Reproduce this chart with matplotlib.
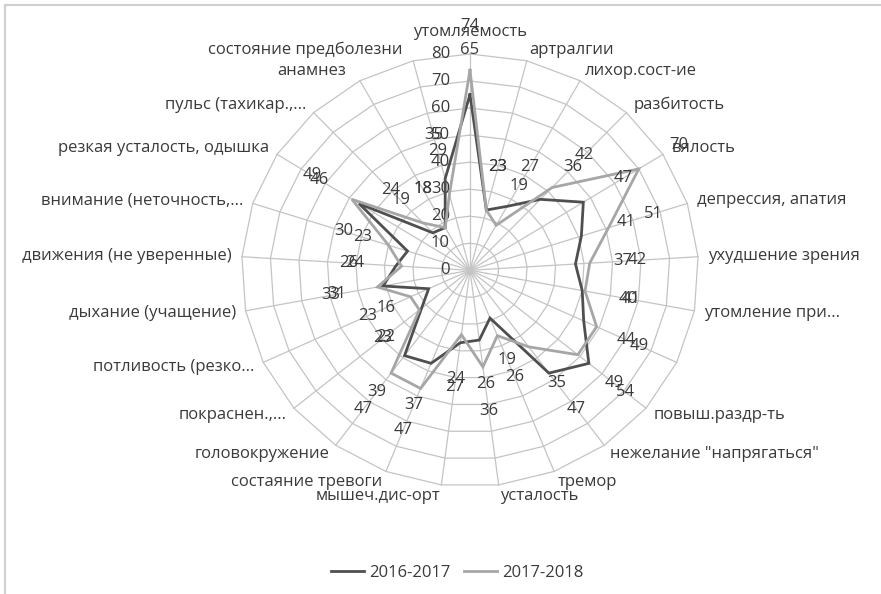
import numpy as np
import matplotlib
matplotlib.use("Agg")
import matplotlib.pyplot as plt
from matplotlib.lines import Line2D

plt.rcParams['font.family'] = ['Open Sans', 'DejaVu Sans']

# категории по часовой стрелке от верха
categories = [
    "утомляемость", "артралгии", "лихор.сост-ие", "разбитость", "вялость",
    "депрессия, апатия", "ухудшение зрения", "утомление при...", "",
    "повыш.раздр-ть", 'нежелание "напрягаться"', "тремор", "усталость",
    "мышеч.дис-орт", "состаяние тревоги", "головокружение", "покраснен.,...",
    "потливость (резко...", "дыхание (учащение)", "движения (не уверенные)",
    "внимание (неточность,...", "резкая усталость, одышка", "пульс (тахикар.,...",
    "анамнез", "состояние предболезни",
]
s_2016 = [65, 23, 27, 36, 47, 41, 37, 40, 44, 54, 47, 19, 26, 27, 37, 39,
          22, 16, 31, 26, 23, 46, 19, 18, 35]
s_2017 = [74, 23, 19, 42, 70, 51, 42, 41, 49, 49, 35, 26, 36, 24, 47, 47,
          23, 23, 33, 24, 30, 49, 24, 18, 29]
series_names = ["2016-2017", "2017-2018"]
ticks = [0, 10, 20, 30, 40, 50, 60, 70, 80]

DARK = '#4f4f4f'
LIGHT = '#a6a6a6'
GRID = '#c4c4c4'
TXT = '#3a3a3a'
FS = 12

W, H = 881, 594
cx, cy = 470, 270.3      # центр диаграммы, пикс.
sx, sy = 2.856, 2.704    # пикс. на единицу

fig = plt.figure(figsize=(W / 100, H / 100), dpi=100)
ax = fig.add_axes([0, 0, 1, 1])
ax.set_xlim(-cx / sx, (W - cx) / sx)
ax.set_ylim(-(H - cy) / sy, cy / sy)
ax.axis('off')

n = len(categories)
ang = np.arange(n) * 2 * np.pi / n
ss, cc = np.sin(ang), np.cos(ang)
rmax = ticks[-1]

# сетка: многоугольники и лучи
for t in ticks[1:]:
    ax.plot(np.append(t * ss, t * ss[0]), np.append(t * cc, t * cc[0]),
            color=GRID, lw=0.9, zorder=1)
for i in range(n):
    ax.plot([0, rmax * ss[i]], [0, rmax * cc[i]], color=GRID, lw=0.9, zorder=1)

# подписи оси значений
for t in ticks:
    ax.text(-20 / sx, t, str(t), ha='right', va='center', fontsize=FS,
            color=TXT, zorder=3)

# ряды
for vals, col in [(s_2016, DARK), (s_2017, LIGHT)]:
    v = np.array(vals, dtype=float)
    ax.plot(np.append(v * ss, v[0] * ss[0]), np.append(v * cc, v[0] * cc[0]),
            color=col, lw=2.0, zorder=4, solid_joinstyle='miter')

# подписи данных
for vals in [s_2016, s_2017]:
    for i, v in enumerate(vals):
        r = v + 16.5
        ax.text(r * ss[i], r * cc[i], str(v), ha='center', va='center',
                fontsize=FS, color=TXT, zorder=5)

# подписи категорий
nudge = {0: (0, 11), 23: (-9, 0), 24: (-8, 0)}
for i, lab in enumerate(categories):
    if not lab:
        continue
    if ss[i] > 0.05:
        ha = 'left'
    elif ss[i] < -0.05:
        ha = 'right'
    else:
        ha = 'center'
    dx = 10 * ss[i] + nudge.get(i, (0, 0))[0]
    dy = 11 * cc[i] + nudge.get(i, (0, 0))[1]
    ax.annotate(lab, xy=(rmax * ss[i], rmax * cc[i]),
                xytext=(dx * 0.72, dy * 0.72), textcoords='offset points',
                ha=ha, va='center', fontsize=FS, color=TXT, zorder=5)

# рамка области диаграммы (обрезана справа и снизу)
fig.add_artist(Line2D([5 / W, 1], [1 - 5 / H, 1 - 5 / H], color='#d0d0d0',
                      lw=1.5, transform=fig.transFigure))
fig.add_artist(Line2D([5 / W, 5 / W], [0, 1 - 5 / H], color='#d0d0d0',
                      lw=1.5, transform=fig.transFigure))

handles = [Line2D([], [], color=DARK, lw=2.0), Line2D([], [], color=LIGHT, lw=2.0)]
fig.legend(handles, series_names, loc='center', ncol=2, frameon=False,
           bbox_to_anchor=(457 / W, 1 - 573 / H), fontsize=FS,
           handlelength=2.0, handletextpad=0.3, columnspacing=0.8,
           labelcolor=TXT)

fig.savefig('out.png', dpi=100)
